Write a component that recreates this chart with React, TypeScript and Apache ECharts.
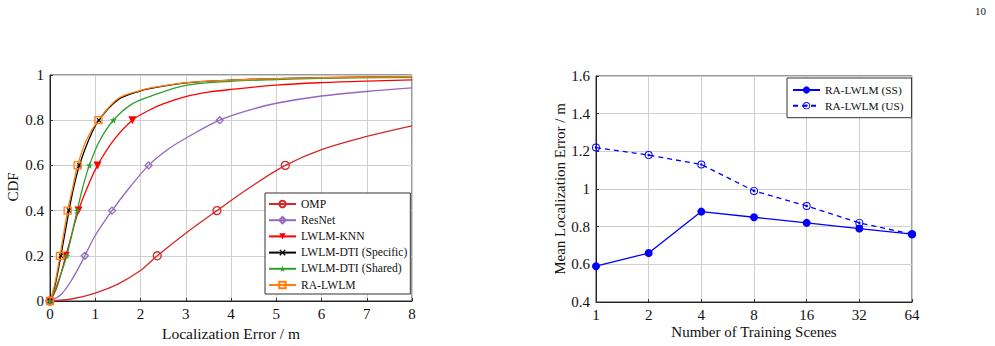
import React, { useEffect, useRef } from "react";
import * as echarts from "echarts";

// ---- CDF of localization error (left panel) ----
const cdfErrorMax = 8;
const markerLevels = [0, 0.2, 0.4, 0.6, 0.8];

const ompX = [0, 0.5, 1, 1.5, 2, 2.37, 3, 3.69, 4.4, 5.2, 6, 7, 8];
const ompY = [0, 0.01, 0.035, 0.075, 0.135, 0.2, 0.3, 0.4, 0.5, 0.6, 0.67, 0.728, 0.775];

const resnetX = [0, 0.25, 0.5, 0.77, 1, 1.37, 1.75, 2.18, 2.6, 3, 3.75, 4.5, 5, 6, 7, 8];
const resnetY = [0, 0.03, 0.1, 0.2, 0.29, 0.4, 0.5, 0.6, 0.67, 0.72, 0.8, 0.85, 0.875, 0.907, 0.927, 0.943];

const knnX = [0, 0.15, 0.35, 0.63, 0.82, 1.05, 1.4, 1.82, 2.2, 2.5, 3, 3.5, 4, 5, 6, 7, 8];
const knnY = [0, 0.06, 0.2, 0.4, 0.5, 0.6, 0.71, 0.8, 0.845, 0.872, 0.904, 0.924, 0.936, 0.955, 0.966, 0.973, 0.978];

const dtiSpecificX = [0, 0.1, 0.24, 0.42, 0.52, 0.65, 0.85, 1.08, 1.5, 2, 2.2, 3, 4, 5, 6, 8];
const dtiSpecificY = [0, 0.06, 0.2, 0.4, 0.5, 0.6, 0.71, 0.8, 0.89, 0.93, 0.94, 0.965, 0.977, 0.984, 0.988, 0.993];

const dtiSharedX = [0, 0.15, 0.37, 0.6, 0.72, 0.87, 1.1, 1.4, 1.8, 2.2, 3, 4, 5, 6, 8];
const dtiSharedY = [0, 0.07, 0.2, 0.4, 0.5, 0.6, 0.71, 0.8, 0.87, 0.904, 0.954, 0.972, 0.98, 0.985, 0.99];

const raLwlmX = [0, 0.1, 0.22, 0.39, 0.5, 0.61, 0.8, 1.07, 1.5, 2, 2.2, 3, 4, 5, 6, 8];
const raLwlmY = [0, 0.07, 0.2, 0.4, 0.5, 0.6, 0.71, 0.8, 0.895, 0.932, 0.942, 0.966, 0.977, 0.984, 0.988, 0.993];

// ---- Mean error vs. number of training scenes (right panel) ----
const sceneCounts = ["1", "2", "4", "8", "16", "32", "64"];
const meanErrorSS = [0.59, 0.66, 0.88, 0.85, 0.82, 0.79, 0.76];
const meanErrorUS = [1.22, 1.18, 1.13, 0.99, 0.91, 0.82, 0.76];

const FONT = "'Liberation Serif', 'DejaVu Serif', serif";

const crossPath = "path://M0,1.5L1.5,0L5,3.5L8.5,0L10,1.5L6.5,5L10,8.5L8.5,10L5,6.5L1.5,10L0,8.5L3.5,5Z";
const starPath =
  "path://M5,0L6.2,3.6L10,3.6L6.9,5.8L8.1,9.5L5,7.2L1.9,9.5L3.1,5.8L0,3.6L3.8,3.6Z";
const ringDotPath =
  "path://M0,-10A10,10 0 1,1 0,10A10,10 0 1,1 0,-10ZM0,-7.6A7.6,7.6 0 1,0 0,7.6A7.6,7.6 0 1,0 0,-7.6ZM0,-3.2A3.2,3.2 0 1,1 0,3.2A3.2,3.2 0 1,1 0,-3.2Z";

function cdfData(xs: number[], ys: number[]) {
  return xs.map((x, i) => {
    const marked = markerLevels.some((l) => Math.abs(l - ys[i]) < 1e-9);
    return marked ? { value: [x, ys[i]] } : { value: [x, ys[i]], symbol: "none" };
  });
}

function cdfSeries(
  name: string,
  xs: number[],
  ys: number[],
  color: string,
  symbol: string,
  symbolSize: number,
  hollow: boolean,
  extra: any = {}
) {
  return {
    name,
    type: "line",
    xAxisIndex: 0,
    yAxisIndex: 0,
    data: cdfData(xs, ys),
    smooth: 0.35,
    showSymbol: true,
    symbol,
    symbolSize,
    lineStyle: { color, width: 1.3 },
    itemStyle: hollow
      ? { color: "rgba(0,0,0,0)", borderColor: color, borderWidth: 1.3 }
      : { color, borderWidth: 0 },
    emphasis: { disabled: true },
    ...extra,
  };
}

export default function App() {
  const ref = useRef<HTMLDivElement>(null);

  useEffect(() => {
    if (!ref.current) return;
    const chart = echarts.init(ref.current, undefined, { renderer: "svg" });

    const axisLabel = { fontFamily: FONT, fontSize: 15, color: "#111" };
    const splitLine = { show: true, lineStyle: { color: "#cfcfcf", width: 1 } };
    const axisLine = { show: true, lineStyle: { color: "#222", width: 1 } };
    const axisTick = { show: true, inside: true, length: 3, lineStyle: { color: "#333" } };
    const titleStyle = { fontFamily: FONT, fontSize: 15, fill: "#111", align: "center", verticalAlign: "middle" };

    const option: any = {
      animation: false,
      backgroundColor: "#fff",
      grid: [
        { left: 50, top: 75, width: 362, height: 226, show: true, borderColor: "#333", borderWidth: 1, backgroundColor: "transparent" },
        { left: 596, top: 76, width: 316, height: 226, show: true, borderColor: "#333", borderWidth: 1, backgroundColor: "transparent" },
      ],
      xAxis: [
        {
          type: "value",
          gridIndex: 0,
          min: 0,
          max: cdfErrorMax,
          interval: 1,
          axisLine,
          axisTick,
          splitLine,
          axisLabel: { ...axisLabel, margin: 5 },
        },
        {
          type: "category",
          gridIndex: 1,
          data: sceneCounts,
          boundaryGap: false,
          axisLine,
          axisTick: { ...axisTick, alignWithLabel: true },
          splitLine,
          axisLabel: { ...axisLabel, margin: 5 },
        },
      ],
      yAxis: [
        {
          type: "value",
          gridIndex: 0,
          min: 0,
          max: 1,
          interval: 0.2,
          axisLine,
          axisTick,
          splitLine,
          axisLabel: { ...axisLabel, margin: 6 },
        },
        {
          type: "value",
          gridIndex: 1,
          min: 0.4,
          max: 1.6,
          interval: 0.2,
          axisLine,
          axisTick,
          splitLine,
          axisLabel: { ...axisLabel, margin: 6 },
        },
      ],
      legend: [
        {
          data: ["OMP", "ResNet", "LWLM-KNN", "LWLM-DTI (Specific)", "LWLM-DTI (Shared)", "RA-LWLM"],
          orient: "vertical",
          left: 265,
          top: 193,
          padding: [5, 3, 3, 3],
          itemGap: 4.2,
          itemWidth: 27,
          itemHeight: 8,
          backgroundColor: "#fff",
          borderColor: "#333",
          borderWidth: 1,
          borderRadius: 0,
          textStyle: { fontFamily: FONT, fontSize: 11.6, color: "#111", lineHeight: 12 },
          selectedMode: false,
        },
        {
          data: ["RA-LWLM (SS)", "RA-LWLM (US)"],
          orient: "vertical",
          left: 787,
          top: 78,
          padding: [6, 8, 6, 5],
          itemGap: 3.7,
          itemWidth: 27,
          itemHeight: 9,
          backgroundColor: "#fff",
          borderColor: "#333",
          borderWidth: 1,
          borderRadius: 0,
          textStyle: { fontFamily: FONT, fontSize: 11.4, color: "#111", lineHeight: 12 },
          selectedMode: false,
        },
      ],
      series: [
        cdfSeries("OMP", ompX, ompY, "#d62728", "circle", 8, true),
        cdfSeries("ResNet", resnetX, resnetY, "#9467bd", "diamond", 7, true),
        cdfSeries("LWLM-KNN", knnX, knnY, "#ff0000", "triangle", 8, false, { symbolRotate: 180 }),
        cdfSeries("LWLM-DTI (Specific)", dtiSpecificX, dtiSpecificY, "#000000", crossPath, 5, false),
        cdfSeries("LWLM-DTI (Shared)", dtiSharedX, dtiSharedY, "#2ca02c", starPath, 7, false),
        cdfSeries("RA-LWLM", raLwlmX, raLwlmY, "#ff7f0e", "rect", 7, true),
        {
          name: "RA-LWLM (SS)",
          type: "line",
          xAxisIndex: 1,
          yAxisIndex: 1,
          data: meanErrorSS,
          symbol: "circle",
          symbolSize: 8,
          lineStyle: { color: "#0000ff", width: 1.3 },
          itemStyle: { color: "#0000ff", borderWidth: 0 },
          emphasis: { disabled: true },
        },
        {
          name: "RA-LWLM (US)",
          type: "line",
          xAxisIndex: 1,
          yAxisIndex: 1,
          data: meanErrorUS,
          symbol: ringDotPath,
          symbolSize: 8,
          lineStyle: { color: "#0000ff", width: 1.3, type: [5, 4] },
          itemStyle: { color: "#0000ff", borderWidth: 0 },
          emphasis: { disabled: true },
        },
      ],
      graphic: [
        { type: "text", right: 9, top: 5, style: { text: "10", fontFamily: FONT, fontSize: 11, fill: "#111" } },
        { type: "text", x: 12.5, y: 187, rotation: Math.PI / 2, style: { ...titleStyle, text: "CDF" } },
        { type: "text", x: 231, y: 333, style: { ...titleStyle, fontSize: 15.5, text: "Localization Error / m" } },
        { type: "text", x: 560, y: 189, rotation: Math.PI / 2, style: { ...titleStyle, text: "Mean Localization Error / m" } },
        { type: "text", x: 754, y: 332, style: { ...titleStyle, text: "Number of Training Scenes" } },
      ],
    };

    chart.setOption(option);
    return () => chart.dispose();
  }, []);

  return (
    <div
      ref={ref}
      style={{ position: "fixed", left: 0, top: 0, width: 995, height: 346, background: "#fff" }}
    />
  );
}
